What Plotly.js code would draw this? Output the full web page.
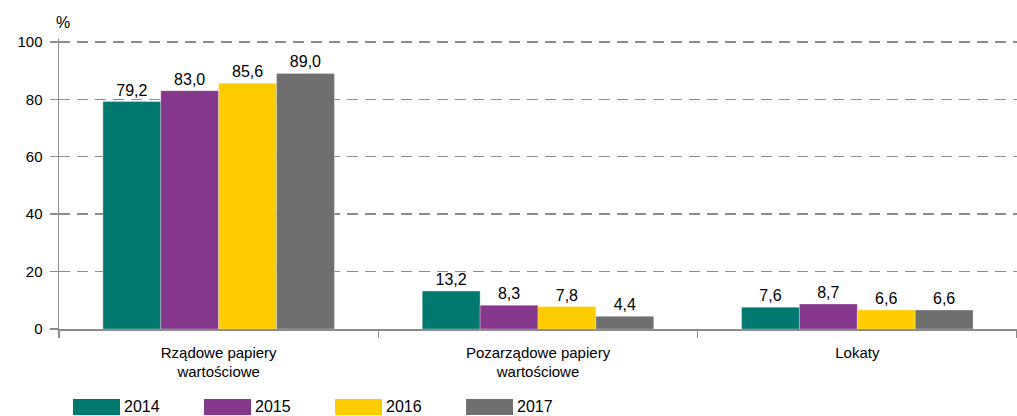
<!DOCTYPE html>
<html>
<head>
<meta charset="utf-8">
<script src="https://cdn.plot.ly/plotly-3.0.1.min.js"></script>
<style>html,body{margin:0;padding:0;background:#fff;}#chart{width:1017px;height:416px;}</style>
</head>
<body>
<div id="chart"></div>
<script>
const categories = ["Rządowe papiery<br>wartościowe", "Pozarządowe papiery<br>wartościowe", "Lokaty"];
const years = ["2014", "2015", "2016", "2017"];
const v2014 = [79.2, 13.2, 7.6];
const v2015 = [83.0, 8.3, 8.7];
const v2016 = [85.6, 7.8, 6.6];
const v2017 = [89.0, 4.4, 6.6];
const yTicks = [0, 20, 40, 60, 80, 100];

const series = [v2014, v2015, v2016, v2017];
const colors = ["#007A70", "#84378B", "#FFCC00", "#6F6F6F"];
const FONT = "Liberation Sans, Arial, sans-serif";

const fmt = v => v.toFixed(1).replace(".", ",");

const traces = series.map((vals, i) => ({
  type: "bar",
  name: years[i],
  x: categories,
  y: vals,
  text: vals.map(fmt),
  textposition: "outside",
  cliponaxis: false,
  textfont: {family: FONT, size: 16, color: "#000"},
  marker: {color: colors[i], line: {color: "rgba(255,255,255,0.6)", width: 0.5}},
  hoverinfo: "skip"
}));

const W = 1017, H = 416;
const M = {l: 59, r: 0, t: 39, b: 87};
const pw = W - M.l - M.r, ph = H - M.t - M.b;
const px2x = px => (px - M.l) / pw;
const py2y = py => (H - M.b - py) / ph;

// custom legend
const shapes = [], annotations = [];
years.forEach((yr, i) => {
  const x0 = 73 + i * 131;
  shapes.push({type: "rect", xref: "paper", yref: "paper",
    x0: px2x(x0), x1: px2x(x0 + 47), y0: py2y(415), y1: py2y(399),
    fillcolor: colors[i], line: {width: 0}});
  annotations.push({xref: "paper", yref: "paper", x: px2x(x0 + 49), y: py2y(407),
    xanchor: "left", yanchor: "middle", text: yr, showarrow: false,
    font: {family: FONT, size: 16, color: "#000"}});
});
annotations.push({xref: "paper", yref: "paper", x: px2x(54), y: py2y(22),
  xanchor: "left", yanchor: "middle", text: "%", showarrow: false,
  font: {family: FONT, size: 16, color: "#000"}});

const layout = {
  width: W, height: H,
  margin: M,
  paper_bgcolor: "#fff", plot_bgcolor: "#fff",
  font: {family: FONT, size: 15, color: "#000"},
  showlegend: false,
  barmode: "group",
  bargap: 0.275,
  bargroupgap: 0,
  xaxis: {
    type: "category",
    showline: true, linecolor: "#8c8c8c", linewidth: 1.5,
    ticks: "outside", tickson: "boundaries", ticklen: 7, tickcolor: "#8c8c8c", tickwidth: 1.5,
    ticklabelstandoff: 9,
    showgrid: false, zeroline: false,
    tickfont: {family: FONT, size: 15, color: "#000"},
    automargin: false
  },
  yaxis: {
    range: [0, 101], tickvals: yTicks, ticktext: yTicks.map(String),
    showline: true, linecolor: "#8c8c8c", linewidth: 1.5,
    ticks: "outside", ticklen: 8, tickcolor: "#8c8c8c", tickwidth: 1.5,
    ticklabelstandoff: 4,
    showgrid: true, gridcolor: "#8c8c8c", griddash: "11px,7px", gridwidth: 1.5,
    zeroline: false,
    tickfont: {family: FONT, size: 15, color: "#000"},
    automargin: false
  },
  shapes: shapes,
  annotations: annotations
};

Plotly.newPlot("chart", traces, layout, {staticPlot: true, displayModeBar: false});
</script>
</body>
</html>
